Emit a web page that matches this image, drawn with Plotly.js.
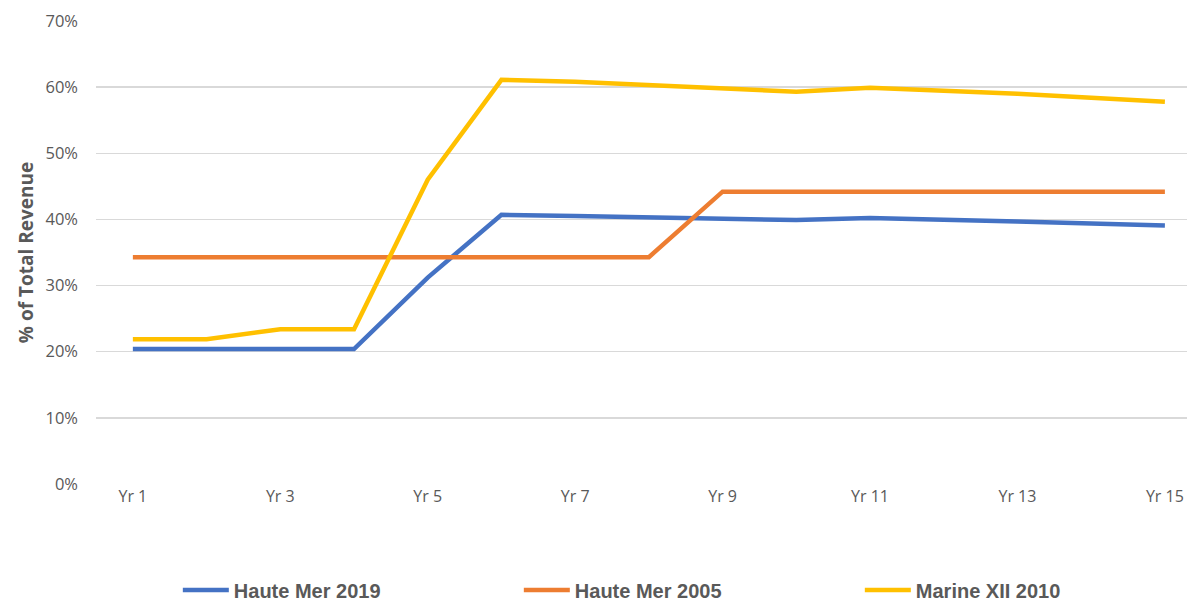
<!DOCTYPE html>
<html>
<head>
<meta charset="utf-8">
<script src="https://cdn.plot.ly/plotly-3.0.1.min.js"></script>
<style>html,body{margin:0;padding:0;background:#fff;}#chart{width:1187px;height:602px;}</style>
</head>
<body>
<div id="chart"></div>
<script>
const years = [1,2,3,4,5,6,7,8,9,10,11,12,13,14,15];
const tickVals = [1,3,5,7,9,11,13,15];
const tickLabels = ["Yr 1","Yr 3","Yr 5","Yr 7","Yr 9","Yr 11","Yr 13","Yr 15"];
const hauteMer2019 = [20.4,20.4,20.4,20.4,31.2,40.7,40.5,40.3,40.0,39.9,40.2,40.0,39.7,39.4,39.1];
const hauteMer2005 = [34.3,34.3,34.3,34.3,34.3,34.3,34.3,34.3,44.2,44.2,44.2,44.2,44.2,44.2,44.2];
const marineXII2010 = [21.9,21.9,23.4,23.4,46.0,61.1,60.8,60.3,59.8,59.3,59.9,59.5,59.0,58.4,57.8];

const seriesNames = ["Haute Mer 2019","Haute Mer 2005","Marine XII 2010"];
const seriesData = [hauteMer2019, hauteMer2005, marineXII2010];
const colors = ["#4472C4","#ED7D31","#FFC000"];

const traces = seriesData.map((d,i)=>({
  x: years, y: d.map(v=>v/100), name: seriesNames[i], type:'scatter', mode:'lines',
  line:{color:colors[i], width:4.5}
}));

const layout = {
  width:1187, height:602,
  margin:{l:96, r:0, t:21, b:118, autoexpand:false},
  paper_bgcolor:'#fff', plot_bgcolor:'#fff',
  font:{family:'"Open Sans", sans-serif', color:'#595959', size:16},
  xaxis:{range:[0.5,15.3], tickvals:tickVals, ticktext:tickLabels, showgrid:false, zeroline:false,
    showline:false, ticks:'', tickfont:{size:16, color:'#595959'}, ticklabelstandoff:1, fixedrange:true},
  yaxis:{range:[0,0.7], dtick:0.1, tickformat:'.0%', showgrid:true, gridcolor:'#D9D9D9', gridwidth:1.3,
    zeroline:false, showline:false, ticks:'', tickfont:{size:16.5,color:'#595959'}, ticklabelstandoff:17,
    title:{text:'% of Total Revenue', font:{size:19, color:'#595959', family:'"Open Sans", sans-serif', weight:'bold'}, standoff:6}},
  showlegend:true,
  legend:{orientation:'h', x:0.075, xanchor:'left', y:-0.229, yanchor:'middle', entrywidth:280, entrywidthmode:'pixels',
    font:{family:'"Liberation Sans", sans-serif', size:20, color:'#595959', weight:'bold'},
    itemwidth:46, traceorder:'normal'}
};
Plotly.newPlot('chart', traces, layout, {displayModeBar:false, staticPlot:true});
</script>
</body>
</html>
